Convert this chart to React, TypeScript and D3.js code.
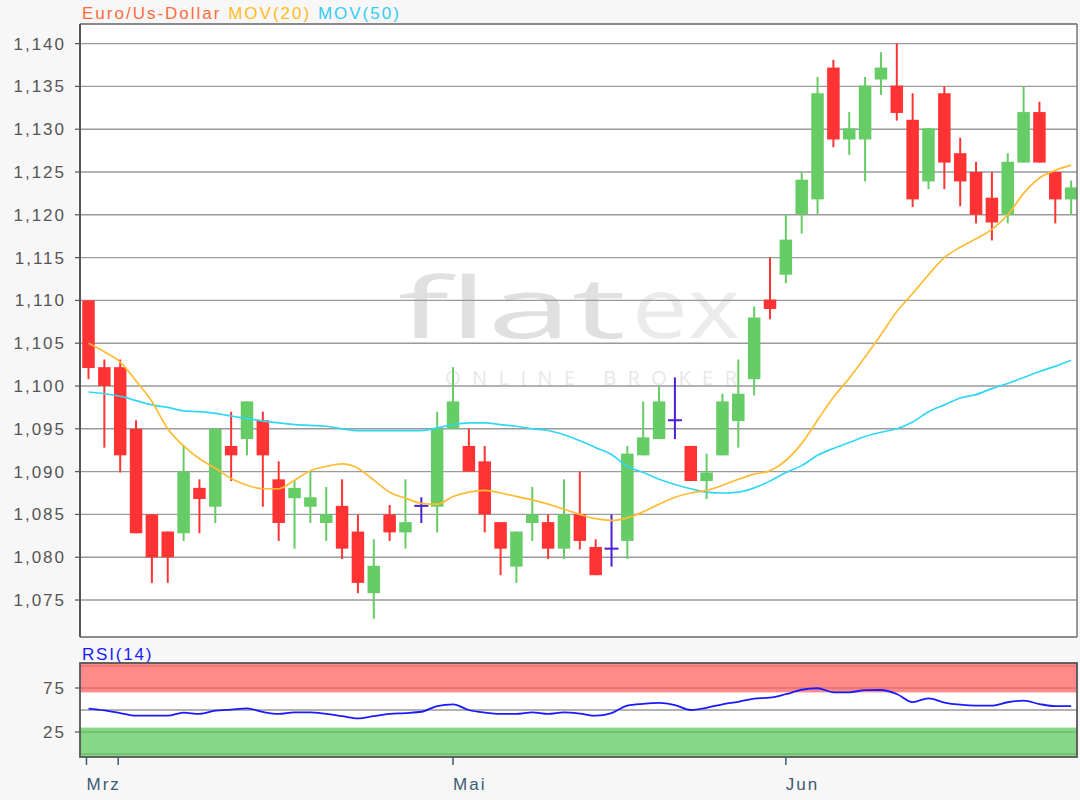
import React from "react";
import * as d3 from "d3";

// ---- data ----
const OPEN = [1.1100,1.1022,1.1022,1.0950,1.0850,1.0830,1.0828,1.0881,1.0859,1.0930,1.0938,1.0960,1.0891,1.0869,1.0859,1.0840,1.0860,1.0830,1.0758,1.0850,1.0829,1.0860,1.0859,1.0950,1.0930,1.0912,1.0841,1.0789,1.0840,1.0841,1.0810,1.0850,1.0812,1.0810,1.0819,1.0919,1.0938,1.0960,1.0930,1.0889,1.0919,1.0959,1.1008,1.1101,1.1130,1.1201,1.1218,1.1372,1.1288,1.1288,1.1358,1.1351,1.1311,1.1239,1.1342,1.1272,1.1250,1.1220,1.1200,1.1261,1.1320,1.1250,1.1218];
const HIGH = [1.1100,1.1031,1.1031,1.0960,1.0850,1.0830,1.0931,1.0891,1.0950,1.0970,1.0982,1.0970,1.0912,1.0890,1.0900,1.0882,1.0891,1.0850,1.0821,1.0861,1.0891,1.0870,1.0970,1.1022,1.0950,1.0930,1.0841,1.0830,1.0882,1.0850,1.0891,1.0900,1.0821,1.0850,1.0930,1.0982,1.1000,1.1010,1.0930,1.0921,1.0991,1.1031,1.1093,1.1150,1.1201,1.1250,1.1361,1.1381,1.1320,1.1361,1.1390,1.1400,1.1342,1.1301,1.1350,1.1290,1.1262,1.1250,1.1272,1.1350,1.1332,1.1250,1.1240];
const LOW = [1.1008,1.0928,1.0899,1.0828,1.0770,1.0770,1.0819,1.0828,1.0840,1.0889,1.0919,1.0859,1.0819,1.0810,1.0840,1.0819,1.0798,1.0758,1.0728,1.0819,1.0810,1.0840,1.0829,1.0950,1.0900,1.0829,1.0779,1.0770,1.0819,1.0798,1.0798,1.0809,1.0779,1.0789,1.0798,1.0919,1.0938,1.0938,1.0889,1.0868,1.0919,1.0928,1.0989,1.1078,1.1120,1.1178,1.1201,1.1279,1.1270,1.1239,1.1340,1.1310,1.1209,1.1230,1.1230,1.1210,1.1190,1.1170,1.1190,1.1261,1.1261,1.1190,1.1200];
const CLOSE = [1.1021,1.1000,1.0919,1.0828,1.0800,1.0800,1.0900,1.0868,1.0950,1.0919,1.0982,1.0919,1.0840,1.0881,1.0870,1.0850,1.0810,1.0770,1.0790,1.0829,1.0841,1.0860,1.0950,1.0982,1.0900,1.0850,1.0810,1.0830,1.0850,1.0810,1.0850,1.0819,1.0779,1.0810,1.0921,1.0940,1.0982,1.0960,1.0889,1.0899,1.0982,1.0991,1.1080,1.1090,1.1171,1.1241,1.1342,1.1288,1.1301,1.1351,1.1372,1.1319,1.1218,1.1301,1.1261,1.1239,1.1200,1.1191,1.1262,1.1320,1.1261,1.1218,1.1232];
const MOV20 = [1.1050,1.1040,1.1028,1.1006,1.0982,1.0950,1.0930,1.0915,1.0904,1.0892,1.0884,1.0880,1.0880,1.0890,1.0901,1.0906,1.0909,1.0904,1.0890,1.0876,1.0869,1.0863,1.0862,1.0871,1.0876,1.0878,1.0875,1.0871,1.0867,1.0862,1.0856,1.0850,1.0845,1.0843,1.0846,1.0853,1.0862,1.0870,1.0875,1.0878,1.0884,1.0891,1.0897,1.0901,1.0913,1.0933,1.0960,1.0987,1.1009,1.1034,1.1060,1.1087,1.1108,1.1130,1.1150,1.1162,1.1172,1.1183,1.1200,1.1225,1.1243,1.1252,1.1258];
const MOV50 = [1.0993,1.0991,1.0988,1.0983,1.0978,1.0975,1.0971,1.0970,1.0968,1.0965,1.0962,1.0959,1.0957,1.0955,1.0954,1.0953,1.0950,1.0948,1.0948,1.0948,1.0948,1.0948,1.0951,1.0955,1.0957,1.0957,1.0955,1.0953,1.0950,1.0948,1.0943,1.0936,1.0928,1.0920,1.0906,1.0899,1.0891,1.0885,1.0880,1.0876,1.0875,1.0876,1.0881,1.0889,1.0899,1.0907,1.0919,1.0927,1.0934,1.0941,1.0946,1.0950,1.0958,1.0970,1.0978,1.0986,1.0990,1.0997,1.1003,1.1010,1.1017,1.1023,1.1030];
const RSI14 = [51.5,49.5,46.5,43.5,43.5,43.5,47.0,45.5,49.2,50.5,51.9,47.8,45.5,47.4,47.4,45.5,43.0,40.5,43.0,45.5,46.5,48.0,54.5,56.5,50.0,47.0,45.5,45.5,47.4,45.5,47.4,46.0,43.5,46.5,55.0,57.0,58.0,55.5,50.0,52.5,56.5,59.3,63.0,64.0,68.0,73.0,74.7,70.1,70.1,72.5,72.7,68.2,59.0,63.3,58.5,56.0,55.0,55.0,58.8,60.6,56.8,54.5,54.5];
const PRICE_TICKS = [1.075,1.080,1.085,1.090,1.095,1.100,1.105,1.110,1.115,1.120,1.125,1.130,1.135,1.140];
const RSI_TICKS = [25, 75];
const MONTH_TICK_INDEX = [0, 2, 23, 44];
const MONTH_TICK_LABEL = ["Mrz", "", "Mai", "Jun"];

const FONT = "'Liberation Sans', Arial, sans-serif";
const LS = 2;

export default function App() {
  const left = 80, right = 1077;
  const mainTop = 24, mainBottom = 637;
  const rsiTop = 663, rsiBottom = 757;

  const x = d3.scaleLinear().domain([-0.536, 62.37]).range([left, right]);
  const y = d3.scaleLinear().domain([1.07068, 1.14229]).range([mainBottom, mainTop]);
  const yr = d3.scaleLinear().domain([-3.4, 103.4]).range([rsiBottom, rsiTop]);

  const idx = d3.range(OPEN.length);
  const fmt = (v: number) => d3.format(".3f")(v).replace(".", ",");

  const lineMain = d3.line<number>().x((d, i) => x(i)).y((d) => y(d)).curve(d3.curveMonotoneX);
  const lineRsi = d3.line<number>().x((d, i) => x(i)).y((d) => yr(d)).curve(d3.curveMonotoneX);

  const bodyW = 12.5;

  return (
    <svg width={1080} height={800} style={{ position: "absolute", left: 0, top: 0, background: "#f7f7f7" }} fontFamily={FONT}>
      <rect x={0} y={0} width={1080} height={800} fill="#f7f7f7" />
      {/* legend */}
      <text x={82} y={19} fontSize={17} letterSpacing={LS}>
        <tspan fill="#ff6a3d">Euro/Us-Dollar </tspan>
        <tspan fill="#ffbb22">MOV(20) </tspan>
        <tspan fill="#33ccf5">MOV(50)</tspan>
      </text>

      {/* main panel */}
      <rect x={left} y={mainTop} width={right - left} height={mainBottom - mainTop} fill="#ffffff" />
      {/* watermark */}
      <g>
        <text x={398} y={338} fontSize={84} fontFamily="'Open Sans', sans-serif" fontWeight={400} fill="#e0e0e0" textLength={228} lengthAdjust="spacingAndGlyphs">flat</text>
        <text x={632} y={338} fontSize={84} fontFamily="'Open Sans', sans-serif" fontWeight={400} fill="#ebebeb" textLength={108} lengthAdjust="spacingAndGlyphs">ex</text>
        <text x={445} y={385} fontSize={20} fontFamily="'Open Sans', sans-serif" fill="#e8e8e8" textLength={292} lengthAdjust="spacing">ONLINE BROKER</text>
      </g>
      {PRICE_TICKS.map((t) => (
        <g key={t}>
          <line x1={left} x2={right} y1={y(t)} y2={y(t)} stroke="#9a9a9a" strokeWidth={1.4} />
          <line x1={75} x2={left} y1={y(t)} y2={y(t)} stroke="#555" strokeWidth={1.2} />
          <text x={66} y={y(t) + 6} textAnchor="end" fontSize={17} letterSpacing={LS} fill="#555">{fmt(t)}</text>
        </g>
      ))}

      {/* candles */}
      {idx.map((i) => {
        const o = OPEN[i], c = CLOSE[i], h = HIGH[i], l = LOW[i];
        const cx = x(i);
        if (o === c) {
          return (
            <g key={i} stroke="#4a1fd6" strokeWidth={2}>
              <line x1={cx} x2={cx} y1={y(h)} y2={y(l)} />
              <line x1={cx - 7} x2={cx + 7} y1={y(o)} y2={y(o)} />
            </g>
          );
        }
        const up = c > o;
        const col = up ? "#66cc66" : "#ff3333";
        const top = y(Math.max(o, c)), bot = y(Math.min(o, c));
        return (
          <g key={i}>
            <line x1={cx} x2={cx} y1={y(h)} y2={y(l)} stroke={col} strokeWidth={2} />
            <rect x={cx - bodyW / 2} y={top} width={bodyW} height={Math.max(1, bot - top)} fill={col} />
          </g>
        );
      })}

      {/* moving averages */}
      <path d={lineMain(MOV50) || ""} fill="none" stroke="#33d6f5" strokeWidth={1.7} />
      <path d={lineMain(MOV20) || ""} fill="none" stroke="#ffbb33" strokeWidth={1.7} />

      {/* main frame */}
      <line x1={left} x2={right} y1={mainTop} y2={mainTop} stroke="#666" strokeWidth={1.5} />
      <line x1={right} x2={right} y1={mainTop} y2={mainBottom} stroke="#777" strokeWidth={1.5} />
      <line x1={left} x2={right} y1={mainBottom} y2={mainBottom} stroke="#666" strokeWidth={1.5} />
      <line x1={left} x2={left} y1={mainTop} y2={mainBottom} stroke="#555" strokeWidth={2} />

      {/* RSI panel */}
      <text x={82} y={660} fontSize={17} letterSpacing={1.8} fill="#1a1aff">RSI(14)</text>
      <rect x={left} y={rsiTop} width={right - left} height={rsiBottom - rsiTop} fill="#ffffff" />
      <rect x={left} y={rsiTop} width={right - left} height={yr(70) - rsiTop} fill="#ff8a8a" />
      <rect x={left} y={yr(30)} width={right - left} height={rsiBottom - yr(30)} fill="#88d888" />
      <line x1={left} x2={right} y1={yr(100)} y2={yr(100)} stroke="#e06a6a" strokeWidth={1.2} />
      <line x1={left} x2={right} y1={yr(75)} y2={yr(75)} stroke="#d46060" strokeWidth={1.2} />
      <line x1={left} x2={right} y1={yr(50)} y2={yr(50)} stroke="#999" strokeWidth={1.4} />
      <line x1={left} x2={right} y1={yr(25)} y2={yr(25)} stroke="#5fae5f" strokeWidth={1.2} />
      <line x1={left} x2={right} y1={yr(0)} y2={yr(0)} stroke="#5fae5f" strokeWidth={1.2} />
      {RSI_TICKS.map((t) => (
        <g key={t}>
          <line x1={75} x2={left} y1={yr(t)} y2={yr(t)} stroke="#555" strokeWidth={1.2} />
          <text x={66} y={yr(t) + 6} textAnchor="end" fontSize={17} letterSpacing={LS} fill="#555">{t}</text>
        </g>
      ))}
      <path d={lineRsi(RSI14) || ""} fill="none" stroke="#1a1aff" strokeWidth={1.8} />
      <rect x={left} y={rsiTop} width={right - left} height={rsiBottom - rsiTop} fill="none" stroke="#555" strokeWidth={1.8} />

      {/* x axis */}
      {MONTH_TICK_INDEX.map((m, k) => {
        const tx = x(m) - (k < 2 ? 2 : 0);
        return (
          <g key={k}>
            <line x1={tx} x2={tx} y1={rsiBottom} y2={765} stroke="#3d5a73" strokeWidth={1.5} />
            {MONTH_TICK_LABEL[k] && (
              <text x={tx} y={790} fontSize={17} letterSpacing={LS} fill="#3d5a73">{MONTH_TICK_LABEL[k]}</text>
            )}
          </g>
        );
      })}
    </svg>
  );
}
